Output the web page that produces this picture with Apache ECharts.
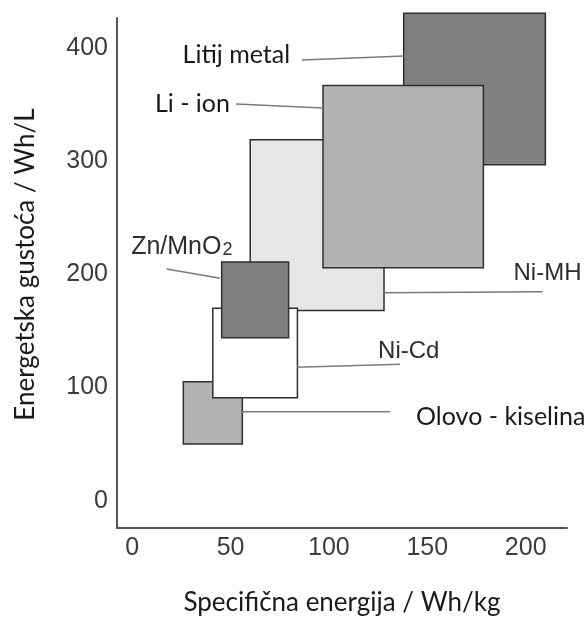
<!DOCTYPE html>
<html>
<head>
<meta charset="utf-8">
<script src="https://cdn.jsdelivr.net/npm/echarts@6/dist/echarts.min.js"></script>
<style>
html,body{margin:0;padding:0;background:#fff;}
#chart{width:587px;height:621px;}
</style>
</head>
<body>
<div id="chart"></div>
<script>
// ---- data ----
const batteries   = ['Olovo - kiselina', 'Ni-MH', 'Ni-Cd', 'Zn/MnO2', 'Litij metal', 'Li - ion'];
const energyMin   = [26, 60, 41, 45.5, 138, 97];     // Wh/kg
const energyMax   = [56, 128, 84, 79.5, 210, 178.5]; // Wh/kg
const densityMin  = [50, 168, 91, 144, 297, 206];    // Wh/L
const densityMax  = [105, 319, 170, 211, 431, 367];  // Wh/L
const xTicks = [0, 50, 100, 150, 200];
const yTicks = [0, 100, 200, 300, 400];
// label anchors (data coords) and leader lines (data coords)
const labelX = [144.3, 193.8, 125.0, -0.5, 80.3, 49.7];
const labelY = [74.2, 201.2, 132.3, 224.5, 394.0, 350.4];
const leaderX1 = [55.7, 127.6, 83.8, 17.5, 86.2, 52.8];
const leaderY1 = [78.6, 183.8, 117.9, 204.8, 389.5, 350.7];
const leaderX2 = [131.1, 208.6, 136.2, 44.7, 138.3, 97.0];
const leaderY2 = [78.6, 184.7, 120.5, 196.6, 393.1, 347.2];

// ---- styles ----
const fills = ['#b3b3b3', '#e6e6e6', '#ffffff', '#7f7f7f', '#808080', '#b3b3b3'];
const labelFont = ['Lato', 'Liberation Sans', 'Liberation Sans', 'Liberation Sans', 'Lato', 'Lato'];
const labelSize = [25, 24, 24, 24, 25, 25];
const labelAlign = ['left', 'left', 'left', 'left', 'right', 'right'];
const labelColor = ['#1a1a1a', '#2e2e2e', '#2e2e2e', '#2e2e2e', '#1a1a1a', '#1a1a1a'];

const rectData = batteries.map((b, i) => [energyMin[i], energyMax[i], densityMin[i], densityMax[i], i]);
const annoData = batteries.map((b, i) => [labelX[i], labelY[i], leaderX1[i], leaderY1[i], leaderX2[i], leaderY2[i], i]);

const chart = echarts.init(document.getElementById('chart'), null, {renderer: 'canvas'});
chart.setOption({
  animation: false,
  backgroundColor: '#ffffff',
  grid: {left: 117, right: 20, top: 18, bottom: 93, containLabel: false},
  xAxis: {
    type: 'value', min: -7.7, max: 221,
    name: 'Specifična energija / Wh/kg',
    nameLocation: 'middle', nameGap: 62,
    nameTextStyle: {fontFamily: 'Lato', fontSize: 26, color: '#1a1a1a'},
    axisLine: {show: true, onZero: false, lineStyle: {color: '#555', width: 2}},
    axisTick: {show: false},
    splitLine: {show: false},
    axisLabel: {customValues: xTicks, fontFamily: 'Liberation Sans', fontSize: 25, color: '#3c3c3c', margin: 8}
  },
  yAxis: {
    type: 'value', min: -24.2, max: 426.7,
    name: 'Energetska gustoća / Wh/L',
    nameLocation: 'middle', nameGap: 78, nameRotate: 90,
    nameTextStyle: {fontFamily: 'Lato', fontSize: 26, color: '#1a1a1a', padding: [0, 0, 0, 17]},
    axisLine: {show: true, onZero: false, lineStyle: {color: '#555', width: 2}},
    axisTick: {show: false},
    splitLine: {show: false},
    axisLabel: {customValues: yTicks, fontFamily: 'Liberation Sans', fontSize: 25, color: '#3c3c3c', margin: 9}
  },
  series: [
    {
      type: 'custom',
      clip: false,
      data: rectData,
      encode: {x: [0, 1], y: [2, 3]},
      renderItem: function (params, api) {
        const p1 = api.coord([api.value(0), api.value(3)]);
        const p2 = api.coord([api.value(1), api.value(2)]);
        const i = api.value(4);
        return {
          type: 'rect',
          shape: {x: p1[0], y: p1[1], width: p2[0] - p1[0], height: p2[1] - p1[1]},
          style: {fill: fills[i], stroke: '#2f2f2f', lineWidth: 1.5}
        };
      },
      z: 2
    },
    {
      type: 'custom',
      clip: false,
      data: annoData,
      encode: {x: [0, 2, 4], y: [1, 3, 5]},
      renderItem: function (params, api) {
        const i = api.value(6);
        const t = api.coord([api.value(0), api.value(1)]);
        const a = api.coord([api.value(2), api.value(3)]);
        const b = api.coord([api.value(4), api.value(5)]);
        const isZn = batteries[i] === 'Zn/MnO2';
        const textStyle = {
          x: t[0], y: t[1],
          text: isZn ? '{a|Zn/MnO}{b|2}' : batteries[i],
          align: labelAlign[i], verticalAlign: 'middle',
          fontFamily: labelFont[i], fontSize: labelSize[i], fill: labelColor[i]
        };
        if (isZn) {
          textStyle.rich = {
            a: {fontFamily: 'Liberation Sans', fontSize: 25, color: labelColor[i]},
            b: {fontFamily: 'Liberation Sans', fontSize: 18, color: labelColor[i], padding: [6, 0, 0, 1]}
          };
        }
        return {
          type: 'group',
          children: [
            {type: 'line', shape: {x1: a[0], y1: a[1], x2: b[0], y2: b[1]}, style: {stroke: '#7a7a7a', lineWidth: 1.5}},
            {type: 'text', style: textStyle}
          ]
        };
      },
      z: 3
    }
  ]
});
</script>
</body>
</html>
